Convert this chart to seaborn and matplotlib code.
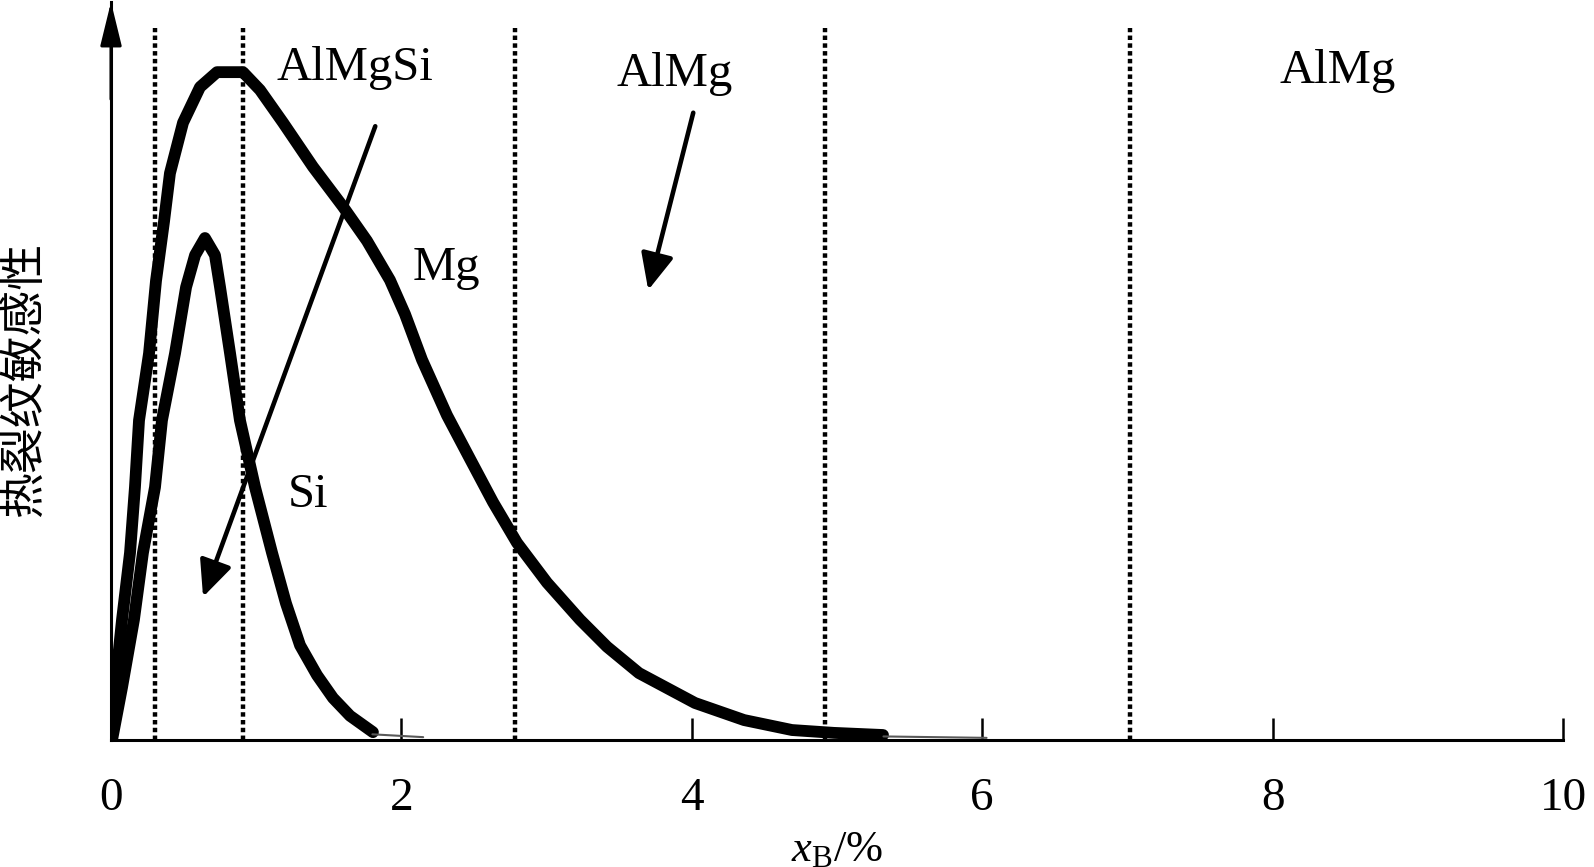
import matplotlib
matplotlib.use('Agg')
import matplotlib.pyplot as plt
import pandas as pd
import seaborn as sns

# curva Mg
mg_x = [0.000, 0.028, 0.076, 0.131, 0.165, 0.193, 0.262, 0.310, 0.365, 0.406, 0.496, 0.613,
        0.730, 0.909, 1.026, 1.185, 1.391, 1.598, 1.763, 1.921, 2.025, 2.142, 2.314, 2.472,
        2.631, 2.796, 3.003, 3.230, 3.416, 3.636, 4.022, 4.360, 4.690, 4.979, 5.317]
mg_y = [0.000, 0.074, 0.169, 0.263, 0.355, 0.449, 0.543, 0.645, 0.728, 0.796, 0.867, 0.917,
        0.938, 0.938, 0.913, 0.867, 0.805, 0.749, 0.701, 0.646, 0.598, 0.534, 0.456, 0.395,
        0.334, 0.277, 0.221, 0.169, 0.131, 0.094, 0.052, 0.028, 0.014, 0.010, 0.007]
mg_cauda_x = [5.32, 6.03]
mg_cauda_y = [0.005, 0.003]

# curva Si
si_x = [0.007, 0.076, 0.158, 0.220, 0.303, 0.351, 0.441, 0.517, 0.579, 0.647, 0.716, 0.751,
        0.820, 0.888, 0.992, 1.109, 1.205, 1.302, 1.419, 1.529, 1.646, 1.804]
si_y = [0.000, 0.074, 0.169, 0.263, 0.355, 0.449, 0.543, 0.636, 0.681, 0.705, 0.681, 0.636,
        0.543, 0.449, 0.355, 0.263, 0.192, 0.133, 0.091, 0.059, 0.034, 0.011]
si_cauda_x = [1.80, 2.15]
si_cauda_y = [0.008, 0.004]

# linhas pontilhadas de fronteira
fronteiras = [0.30, 0.91, 2.78, 4.92, 7.02]

# rótulos (texto, x, y)
rotulos = [('AlMgSi', 1.68, 0.927), ('AlMg', 3.88, 0.919), ('AlMg', 8.45, 0.923),
           ('Mg', 2.31, 0.646), ('Si', 1.36, 0.327)]

# setas (inicio -> ponta)
seta_si = ((1.82, 0.862), (0.634, 0.201))
seta_almg = ((4.01, 0.881), (3.70, 0.632))

xticks = [0, 2, 4, 6, 8, 10]

sns.set_style('white')
plt.rcParams['font.family'] = ['Liberation Serif', 'Noto Sans CJK SC']
plt.rcParams['mathtext.fontset'] = 'custom'
plt.rcParams['mathtext.rm'] = 'Liberation Serif'
plt.rcParams['mathtext.it'] = 'Liberation Serif:italic'
plt.rcParams['text.color'] = 'black'
plt.rcParams['axes.labelcolor'] = 'black'
plt.rcParams['xtick.color'] = 'black'

fig = plt.figure(figsize=(15.94, 8.67), dpi=100)
ax = fig.add_axes([111 / 1594, 1 - 740 / 867, (1563 - 111) / 1594, (740 - 2) / 867])

df_mg = pd.DataFrame({'x': mg_x, 'y': mg_y})
df_si = pd.DataFrame({'x': si_x, 'y': si_y})

ax.vlines(fronteiras, 0, 1.0, colors='black', linewidth=3.2, linestyles=(0, (1.0, 0.75)))

sns.lineplot(data=df_mg, x='x', y='y', sort=False, estimator=None, color='black',
             linewidth=8.5, ax=ax)
sns.lineplot(data=df_si, x='x', y='y', sort=False, estimator=None, color='black',
             linewidth=8.5, ax=ax)
ax.plot(mg_cauda_x, mg_cauda_y, color='0.35', linewidth=1.5)
ax.plot(si_cauda_x, si_cauda_y, color='0.35', linewidth=1.5)

for ini, fim in [seta_si, seta_almg]:
    ax.annotate('', xy=fim, xytext=ini,
                arrowprops=dict(arrowstyle='-|>,head_length=1.1,head_width=0.5',
                                color='black', lw=3.3, mutation_scale=20,
                                shrinkA=0, shrinkB=0))

for txt, x, y in rotulos:
    ax.text(x, y, txt, ha='center', va='baseline', fontsize=35)

ax.set_xlim(0, 10)
ax.set_ylim(0, 738 / 712)
ax.set_xticks(xticks)
ax.set_xticklabels([str(t) for t in xticks])
ax.set_yticks([])
ax.tick_params(axis='x', bottom=True, direction='in', length=16, width=1.8, labelsize=34,
               pad=27, color='black')
for s in ['top', 'right']:
    ax.spines[s].set_visible(False)
for s in ['left', 'bottom']:
    ax.spines[s].set_linewidth(2.2)
    ax.spines[s].set_color('black')

# seta do eixo y
ax.annotate('', xy=(0, 738 / 712), xytext=(0, 0.9),
            arrowprops=dict(arrowstyle='-|>,head_length=1.35,head_width=0.33',
                            color='black', lw=2.2, mutation_scale=20,
                            shrinkA=0, shrinkB=0), annotation_clip=False)

ax.set_xlabel(r'$x_{\mathrm{B}}$/%', fontsize=32, labelpad=7)
ax.set_ylabel('热裂纹敏感性', fontsize=33, family=['Noto Sans CJK SC'])
ax.yaxis.set_label_coords(-0.0435, 0.488)

fig.savefig('out.png', dpi=100)
